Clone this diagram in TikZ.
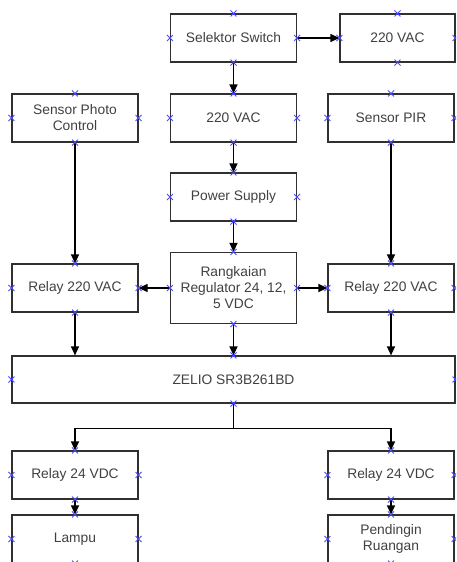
\documentclass[tikz,border=0pt]{standalone}
\usepackage{fontspec}
\setmainfont{Liberation Sans}
\usetikzlibrary{arrows.meta}
\definecolor{txt}{HTML}{404040}
\definecolor{bord}{HTML}{303030}
\definecolor{mkc}{HTML}{4B4BFF}
\tikzset{
  blk/.style={draw=bord, line width=1.2pt, text=txt,
    font=\fontsize{13.8}{16}\selectfont, align=center, inner sep=0pt,
    minimum height=48pt, minimum width=126pt},
  conn/.style={draw=black, line width=1.2pt, -{Triangle[length=9pt,width=8pt]}},
  plain/.style={draw=black, line width=1.2pt},
  mk/.style={draw=mkc, line width=0.9pt}
}
\newcommand\sidemarks[1]{\foreach \a in {north,south,east,west}{\draw[mk] (#1.\a) +(-3,-3) -- +(3,3) +(-3,3) -- +(3,-3);}}
\begin{document}
\begin{tikzpicture}[x=1pt,y=-1pt]
\clip (0,0) rectangle (456,562);
% row 1
\node[blk] (sel) at (233.5,38) {Selektor Switch};
\node[blk, minimum width=115pt] (vac1) at (397.5,38) {220 VAC};
% row 2
\node[blk] (photo) at (75,118) {Sensor Photo\\Control};
\node[blk] (vac2) at (233.5,118) {220 VAC};
\node[blk] (pir) at (391,118) {Sensor PIR};
% row 3
\node[blk] (ps) at (233.5,197) {Power Supply};
% row 4
\node[blk, minimum height=71pt] (reg) at (233.5,288) {Rangkaian\\Regulator 24, 12,\\5 VDC};
\node[blk] (rl) at (75,288) {Relay 220 VAC};
\node[blk] (rr) at (391,288) {Relay 220 VAC};
% zelio
\node[blk, minimum width=443pt, minimum height=47pt] (zel) at (233.5,379.5) {ZELIO SR3B261BD};
% bottom
\node[blk] (r24l) at (75,475) {Relay 24 VDC};
\node[blk] (r24r) at (391,475) {Relay 24 VDC};
\node[blk] (lampu) at (75,539) {Lampu};
\node[blk] (pend) at (391,539) {Pendingin\\Ruangan};
% connectors
\draw[conn] (sel) -- (vac1);
\draw[conn] (sel) -- (vac2);
\draw[conn] (vac2) -- (ps);
\draw[conn] (ps) -- (reg);
\draw[conn] (reg) -- (rl);
\draw[conn] (reg) -- (rr);
\draw[conn] (photo) -- (rl);
\draw[conn] (pir) -- (rr);
\draw[conn] (rl) -- (rl |- zel.north);
\draw[conn] (reg) -- (zel);
\draw[conn] (rr) -- (rr |- zel.north);
\draw[plain] (zel.south) -- ++(0,25) coordinate (j);
\draw[conn] (j) -| (r24l);
\draw[conn] (j) -| (r24r);
\draw[conn] (r24l) -- (lampu);
\draw[conn] (r24r) -- (pend);
% connection point markers
\foreach \n in {sel,vac1,photo,vac2,pir,ps,reg,rl,rr,zel,r24l,r24r,lampu,pend}{\sidemarks{\n}}
\end{tikzpicture}
\end{document}
